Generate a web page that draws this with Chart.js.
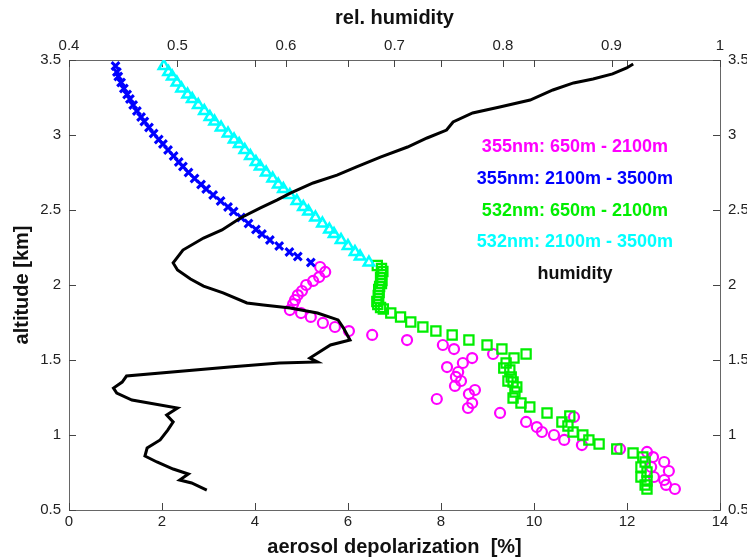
<!DOCTYPE html>
<html>
<head>
<meta charset="utf-8">
<script src="https://cdn.jsdelivr.net/npm/chart.js@4.4.0/dist/chart.umd.min.js"></script>
<style>
  html, body { margin: 0; padding: 0; background: #fff; }
  #wrap { width: 747px; height: 559px; }
</style>
</head>
<body>
<div id="wrap"><canvas id="depolChart" width="747" height="559"></canvas></div>
<script>
// tick positions
const depolTicks = [0, 2, 4, 6, 8, 10, 12, 14];
const humidityTicks = [0.4, 0.5, 0.6, 0.7, 0.8, 0.9, 1];
const altitudeTicks = [0.5, 1, 1.5, 2, 2.5, 3, 3.5];

// 2100 - 3500 m, both wavelengths share the altitude bins
const altUpper = [3.46, 3.42, 3.39, 3.35, 3.31, 3.27, 3.24, 3.20, 3.16, 3.12, 3.09, 3.05,
  3.01, 2.97, 2.94, 2.90, 2.86, 2.82, 2.79, 2.75, 2.71, 2.67, 2.64, 2.60,
  2.56, 2.52, 2.49, 2.45, 2.41, 2.37, 2.34, 2.30, 2.26, 2.22, 2.19, 2.15];
const depol355Upper = [1.00, 1.03, 1.06, 1.12, 1.18, 1.25, 1.31, 1.38, 1.46, 1.55, 1.62, 1.72,
  1.82, 1.93, 2.02, 2.13, 2.25, 2.36, 2.45, 2.57, 2.70, 2.84, 2.95, 3.10,
  3.26, 3.42, 3.54, 3.70, 3.86, 4.02, 4.15, 4.32, 4.52, 4.74, 4.92, 5.20];
const depol532Upper = [2.04, 2.14, 2.22, 2.32, 2.42, 2.55, 2.65, 2.78, 2.91, 3.03, 3.13, 3.27,
  3.42, 3.55, 3.66, 3.78, 3.90, 4.02, 4.11, 4.24, 4.38, 4.50, 4.61, 4.75,
  4.90, 5.04, 5.15, 5.30, 5.45, 5.60, 5.70, 5.85, 6.00, 6.15, 6.26, 6.45];

// 650 - 2100 m, 355 nm
const alt355Low = [2.12, 2.087, 2.053, 2.027, 2.00, 1.96, 1.933, 1.90, 1.873, 1.833,
  1.813, 1.787, 1.747, 1.72, 1.693, 1.667, 1.633, 1.60, 1.573, 1.54,
  1.513, 1.48, 1.453, 1.42, 1.387, 1.36, 1.327, 1.30, 1.273, 1.24,
  1.213, 1.18, 1.147, 1.12, 1.087, 1.053, 1.02, 1.00, 0.967, 0.933,
  0.907, 0.887, 0.853, 0.82, 0.787, 0.76, 0.72, 0.70, 0.667, 0.64];
const depol355Low = [5.40, 5.51, 5.38, 5.25, 5.10, 5.01, 4.92, 4.86, 4.82, 4.75,
  4.99, 5.20, 5.46, 5.72, 6.02, 6.52, 7.27, 8.04, 8.28, 9.12,
  8.67, 8.47, 8.13, 8.37, 8.32, 8.43, 8.30, 8.73, 8.60, 7.91,
  8.67, 8.58, 9.27, 10.86, 9.83, 10.06, 10.17, 10.43, 10.65, 11.03,
  11.85, 12.43, 12.56, 12.80, 12.52, 12.90, 12.58, 12.80, 12.84, 13.03];

// 650 - 2100 m, 532 nm
const alt532Low = [2.13, 2.11, 2.09, 2.07, 2.05, 2.03, 2.01, 1.99, 1.97, 1.95,
  1.93, 1.91, 1.89, 1.87, 1.85, 1.84, 1.813, 1.787, 1.753, 1.72,
  1.693, 1.667, 1.633, 1.60, 1.573, 1.54, 1.513, 1.48, 1.447, 1.433,
  1.387, 1.36, 1.353, 1.32, 1.287, 1.247, 1.213, 1.187, 1.147, 1.127,
  1.087, 1.06, 1.02, 1.00, 0.967, 0.94, 0.907, 0.88, 0.853, 0.82,
  0.787, 0.753, 0.72, 0.693, 0.667, 0.64];
const depol532Low = [6.63, 6.72, 6.75, 6.72, 6.70, 6.73, 6.72, 6.68, 6.66, 6.67,
  6.65, 6.66, 6.62, 6.64, 6.70, 6.76, 6.92, 7.13, 7.35, 7.61,
  7.89, 8.24, 8.60, 8.99, 9.31, 9.83, 9.57, 9.40, 9.35, 9.48,
  9.51, 9.44, 9.55, 9.63, 9.59, 9.55, 9.72, 9.91, 10.28, 10.77,
  10.60, 10.73, 10.84, 11.05, 11.18, 11.40, 11.78, 12.13, 12.34, 12.39,
  12.30, 12.43, 12.30, 12.43, 12.39, 12.43];

// relative humidity profile
const humidityAlt = [3.473, 3.447, 3.407, 3.373, 3.347, 3.30, 3.233, 3.187, 3.147, 3.087,
  3.033, 2.98, 2.92, 2.853, 2.787, 2.733, 2.68, 2.613, 2.567, 2.513,
  2.447, 2.367, 2.313, 2.233, 2.147, 2.10, 2.04, 1.993, 1.947, 1.88,
  1.867, 1.847, 1.813, 1.767, 1.713, 1.633, 1.60, 1.513, 1.487, 1.48,
  1.453, 1.393, 1.353, 1.313, 1.28, 1.233, 1.18, 1.133, 1.087, 1.033,
  0.967, 0.913, 0.86, 0.82, 0.773, 0.74, 0.70, 0.68, 0.633];
const humidity = [0.920, 0.914, 0.901, 0.883, 0.865, 0.846, 0.825, 0.797, 0.772, 0.754,
  0.748, 0.730, 0.712, 0.687, 0.665, 0.647, 0.625, 0.604, 0.592, 0.576,
  0.558, 0.541, 0.524, 0.505, 0.496, 0.500, 0.512, 0.524, 0.542, 0.564,
  0.579, 0.604, 0.629, 0.648, 0.653, 0.659, 0.641, 0.622, 0.629, 0.594,
  0.548, 0.453, 0.449, 0.441, 0.444, 0.458, 0.500, 0.490, 0.496, 0.491,
  0.484, 0.472, 0.470, 0.481, 0.496, 0.510, 0.502, 0.513, 0.527];

const legendEntries = [
  { text: '355nm: 650m - 2100m', color: '#ff00ff' },
  { text: '355nm: 2100m - 3500m', color: '#0000ff' },
  { text: '532nm: 650m - 2100m', color: '#00ee00' },
  { text: '532nm: 2100m - 3500m', color: '#00ffff' },
  { text: 'humidity', color: '#111111' }
];

const FONT = "'Liberation Sans', Arial, Helvetica, sans-serif";
const pts = (xs, ys) => ys.map((y, i) => ({ x: xs[i], y: y }));
const fmt = v => String(Math.round(v * 10) / 10);
const useTicks = list => scale => { scale.ticks = list.map(v => ({ value: v })); };

// matlab style ticks pointing into the plot box
const inwardTicks = {
  id: 'inwardTicks',
  beforeDatasetsDraw(chart) {
    const { ctx, chartArea: a, scales } = chart;
    const len = 7;
    const snap = p => Math.round(p) + 0.5;
    ctx.save();
    ctx.strokeStyle = '#444';
    ctx.lineWidth = 1;
    ctx.beginPath();
    scales.x.ticks.forEach(t => {
      const px = snap(scales.x.getPixelForValue(t.value));
      ctx.moveTo(px, a.bottom); ctx.lineTo(px, a.bottom - len);
      ctx.moveTo(px, a.top); ctx.lineTo(px, a.top + len);
    });
    scales.x2.ticks.forEach(t => {
      const px = snap(scales.x2.getPixelForValue(t.value));
      ctx.moveTo(px, a.top); ctx.lineTo(px, a.top + len);
    });
    scales.y.ticks.forEach(t => {
      const py = snap(scales.y.getPixelForValue(t.value));
      ctx.moveTo(a.left, py); ctx.lineTo(a.left + len, py);
      ctx.moveTo(a.right, py); ctx.lineTo(a.right - len, py);
    });
    ctx.stroke();
    ctx.restore();
  }
};

// coloured text key in the upper right of the plot
const textKey = {
  id: 'textKey',
  afterDatasetsDraw(chart) {
    const { ctx, scales } = chart;
    const cx = scales.x.getPixelForValue(10.88);
    const y0 = scales.y.getPixelForValue(2.92);
    ctx.save();
    ctx.font = 'bold 18px ' + FONT;
    ctx.textAlign = 'center';
    ctx.textBaseline = 'middle';
    legendEntries.forEach((e, i) => {
      ctx.fillStyle = e.color;
      ctx.fillText(e.text, cx, y0 + i * 31.8);
    });
    ctx.restore();
  }
};

const tickFont = { family: FONT, size: 15 };
const titleFont = { family: FONT, size: 20, weight: 'bold' };
const border = { display: true, color: '#666', width: 1 };
const noGrid = { display: false, drawTicks: false };

new Chart(document.getElementById('depolChart'), {
  type: 'scatter',
  data: {
    datasets: [
      {
        label: 'humidity',
        data: pts(humidity, humidityAlt),
        xAxisID: 'x2',
        showLine: true,
        borderColor: '#000',
        borderWidth: 3,
        pointRadius: 0,
        order: 0
      },
      {
        label: '355nm: 2100m - 3500m',
        data: pts(depol355Upper, altUpper),
        pointStyle: 'crossRot',
        pointRadius: 5.5,
        borderColor: '#0000ff',
        borderWidth: 3,
        order: 1
      },
      {
        label: '532nm: 2100m - 3500m',
        data: pts(depol532Upper, altUpper),
        pointStyle: 'triangle',
        pointRadius: 6,
        borderColor: '#00ffff',
        backgroundColor: 'rgba(0,0,0,0)',
        borderWidth: 2.5,
        order: 1
      },
      {
        label: '532nm: 650m - 2100m',
        data: pts(depol532Low, alt532Low),
        pointStyle: 'rect',
        pointRadius: 6.5,
        borderColor: '#00ee00',
        backgroundColor: 'rgba(0,0,0,0)',
        borderWidth: 2.2,
        order: 1
      },
      {
        label: '355nm: 650m - 2100m',
        data: pts(depol355Low, alt355Low),
        pointStyle: 'circle',
        pointRadius: 5,
        borderColor: '#ff00ff',
        backgroundColor: 'rgba(0,0,0,0)',
        borderWidth: 2.2,
        order: 1
      }
    ]
  },
  options: {
    responsive: false,
    animation: false,
    devicePixelRatio: 1,
    layout: { padding: 0 },
    plugins: { legend: { display: false }, tooltip: { enabled: false } },
    scales: {
      x: {
        type: 'linear', position: 'bottom', min: 0, max: 14,
        afterBuildTicks: useTicks(depolTicks),
        afterFit: s => { s.height = 49; },
        grid: noGrid, border: border,
        ticks: { font: tickFont, color: '#222', padding: 3, maxRotation: 0, autoSkip: false, callback: fmt },
        title: { display: true, text: 'aerosol depolarization  [%]', font: titleFont, color: '#111', padding: { top: 0, bottom: 0 } }
      },
      x2: {
        type: 'linear', position: 'top', min: 0.4, max: 1,
        afterBuildTicks: useTicks(humidityTicks),
        afterFit: s => { s.height = 60; },
        grid: noGrid, border: border,
        ticks: { font: tickFont, color: '#222', padding: 5, maxRotation: 0, autoSkip: false, callback: fmt },
        title: { display: true, text: 'rel. humidity', font: titleFont, color: '#111', padding: { top: 6, bottom: 0 } }
      },
      y: {
        type: 'linear', position: 'left', min: 0.5, max: 3.5,
        afterBuildTicks: useTicks(altitudeTicks),
        afterFit: s => { s.width = 69; },
        grid: noGrid, border: border,
        ticks: { font: tickFont, color: '#222', padding: 8, autoSkip: false, callback: fmt },
        title: { display: true, text: 'altitude [km]', font: titleFont, color: '#111', padding: { top: 10, bottom: 0 } }
      },
      y2: {
        type: 'linear', position: 'right', min: 0.5, max: 3.5, display: true,
        afterBuildTicks: useTicks(altitudeTicks),
        afterFit: s => { s.width = 27; },
        grid: noGrid, border: border,
        ticks: { font: tickFont, color: '#222', padding: 8, autoSkip: false, callback: fmt }
      }
    }
  },
  plugins: [inwardTicks, textKey]
});
</script>
</body>
</html>
